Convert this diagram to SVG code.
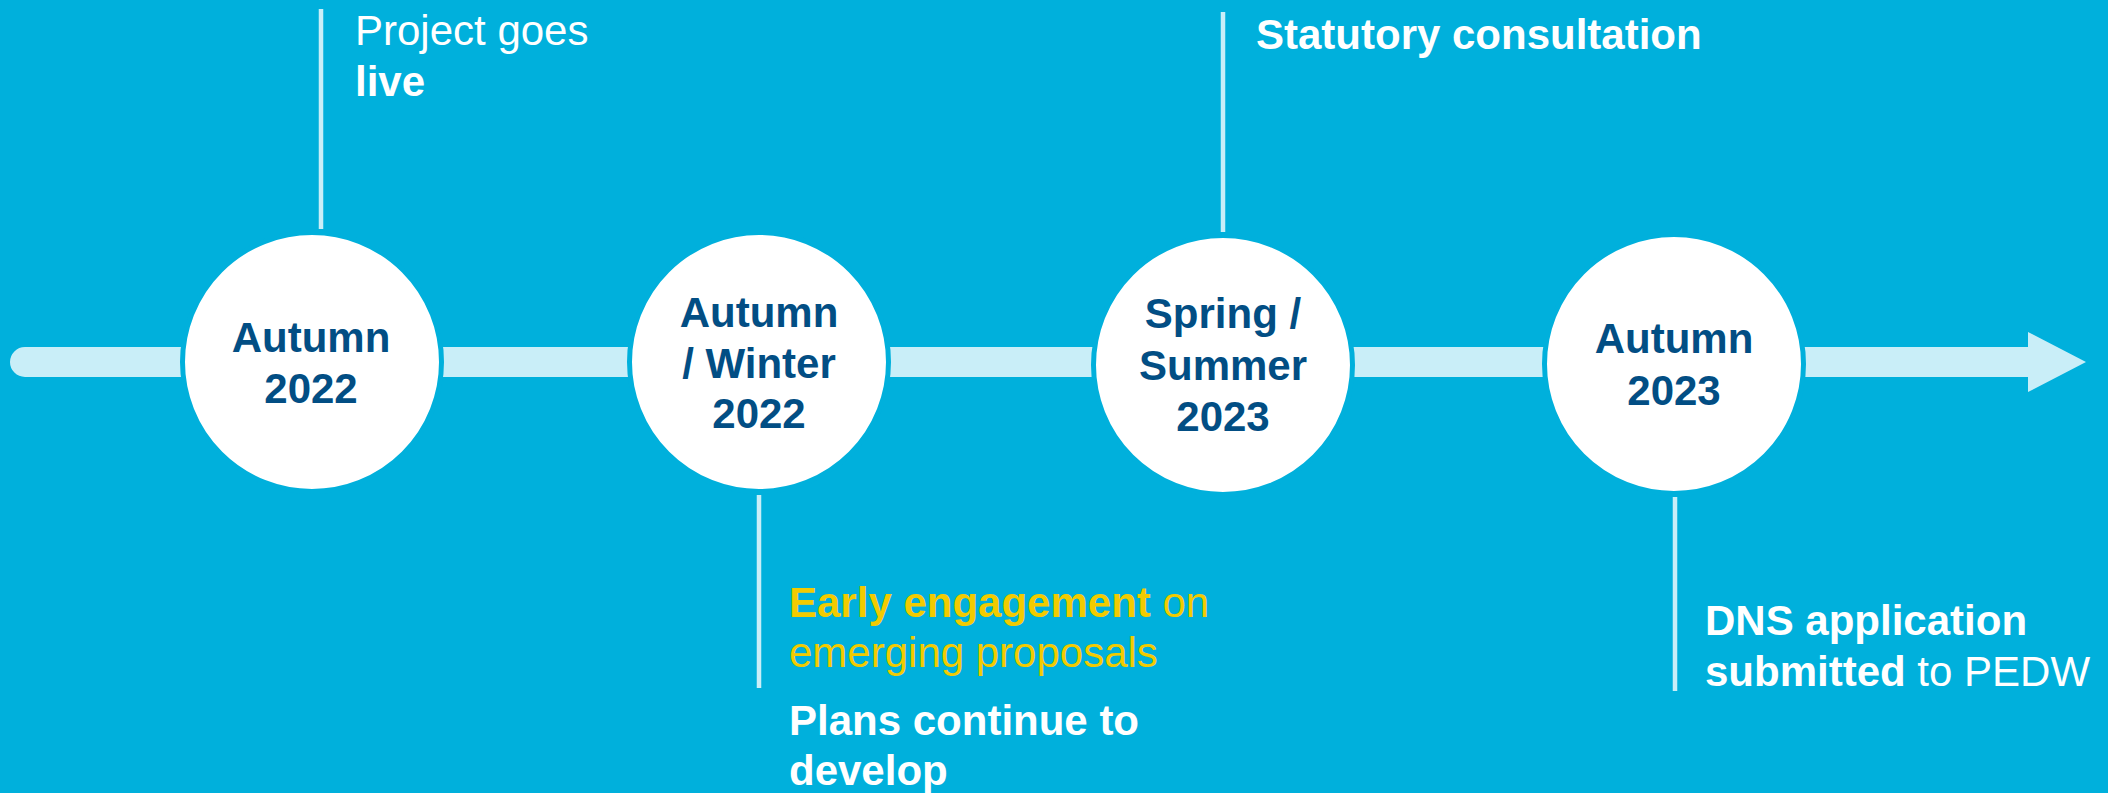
<svg xmlns="http://www.w3.org/2000/svg" width="2108" height="793" viewBox="0 0 2108 793">
  <style>
    .bg { fill: #00B0DC; }
    .rail { fill: #C9EEF8; }
    .tick { stroke: #C9EEF8; stroke-width: 4.5; }
    .dot { fill: #FFFFFF; stroke: #00B0DC; stroke-width: 5; }
    .date { font-family: "Liberation Sans", Arial, sans-serif; font-size: 42px; font-weight: bold; fill: #024E84; text-anchor: middle; }
    .note { font-family: "Liberation Sans", Arial, sans-serif; font-size: 42px; fill: #FFFFFF; }
    .note.gold { fill: #F2CB00; }
    .b { font-weight: bold; }
  </style>

  <rect class="bg" x="0" y="0" width="2108" height="793"/>

  <!-- timeline rail, arrowhead and milestone ticks -->
  <g id="connectors">
    <path class="rail" d="M25,347 H2028 V332 L2086,362 L2028,392 V377 H25 A15,15 0 0 1 25,347 Z"/>
    <line class="tick" x1="321" y1="9" x2="321" y2="229"/>
    <line class="tick" x1="1223" y1="12" x2="1223" y2="232"/>
    <line class="tick" x1="759" y1="495" x2="759" y2="688"/>
    <line class="tick" x1="1675" y1="497" x2="1675" y2="691"/>
  </g>

  <g id="milestone-autumn-2022">
    <circle class="dot" cx="312" cy="362" r="129.5"/>
    <text class="date" x="311" y="352">Autumn</text>
    <text class="date" x="311" y="403">2022</text>
  </g>

  <g id="milestone-autumn-winter-2022">
    <circle class="dot" cx="759" cy="362" r="129.5"/>
    <text class="date" x="759" y="327">Autumn</text>
    <text class="date" x="759" y="378">/ Winter</text>
    <text class="date" x="759" y="428">2022</text>
  </g>

  <g id="milestone-spring-summer-2023">
    <circle class="dot" cx="1223" cy="365" r="129.5"/>
    <text class="date" x="1223" y="328">Spring /</text>
    <text class="date" x="1223" y="380">Summer</text>
    <text class="date" x="1223" y="431">2023</text>
  </g>

  <g id="milestone-autumn-2023">
    <circle class="dot" cx="1674" cy="364" r="129.5"/>
    <text class="date" x="1674" y="353">Autumn</text>
    <text class="date" x="1674" y="405">2023</text>
  </g>

  <g id="event-project-live">
    <text class="note" x="355" y="45">Project goes</text>
    <text class="note b" x="355" y="96">live</text>
  </g>

  <g id="event-statutory-consultation">
    <text class="note b" x="1256" y="49">Statutory consultation</text>
  </g>

  <g id="event-early-engagement">
    <text class="note gold" x="789" y="617"><tspan class="b">Early engagement</tspan> on</text>
    <text class="note gold" x="789" y="667">emerging proposals</text>
    <text class="note b" x="789" y="735">Plans continue to</text>
    <text class="note b" x="789" y="785">develop</text>
  </g>

  <g id="event-dns-application">
    <text class="note b" x="1705" y="635">DNS application</text>
    <text class="note" x="1705" y="686"><tspan class="b">submitted</tspan> to PEDW</text>
  </g>
</svg>
